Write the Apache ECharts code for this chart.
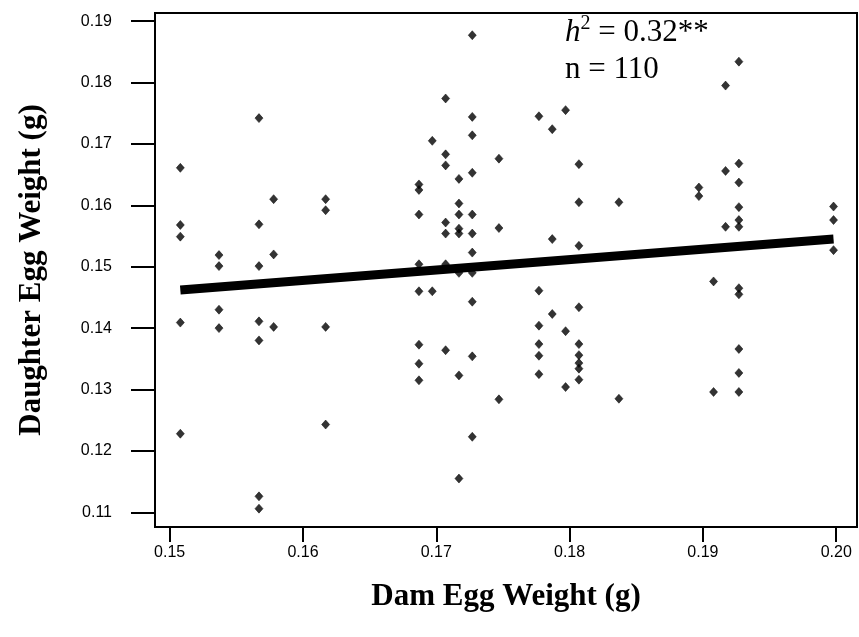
<!DOCTYPE html>
<html>
<head>
<meta charset="utf-8">
<script src="https://cdn.jsdelivr.net/npm/echarts@6/dist/echarts.min.js"></script>
<style>
html,body{margin:0;padding:0;background:#fff;}
#chart{width:859px;height:637px;}
</style>
</head>
<body>
<div id="chart"></div>
<script>
// Tick labels
const xTicks = [0.15, 0.16, 0.17, 0.18, 0.19, 0.20];
const yTicks = [0.11, 0.12, 0.13, 0.14, 0.15, 0.16, 0.17, 0.18, 0.19];

// Dam egg weight (g) for each column of points
const damColumns = [0.1508, 0.1537, 0.1567, 0.1578, 0.1617, 0.1687, 0.1697, 0.1707, 0.1717, 0.1727,
                    0.1747, 0.1777, 0.1787, 0.1797, 0.1807, 0.1837, 0.1897, 0.1908, 0.1917, 0.1927, 0.1998];

// Daughter egg weights (g) in each column
const daughterColumns = [
  [0.1661, 0.1568, 0.1549, 0.1409, 0.1228],
  [0.1519, 0.1501, 0.1430, 0.1400],
  [0.1742, 0.1569, 0.1501, 0.1411, 0.1380, 0.1126, 0.1106],
  [0.1610, 0.1520, 0.1402],
  [0.1610, 0.1592, 0.1402, 0.1243],
  [0.1634, 0.1625, 0.1585, 0.1504, 0.1460, 0.1373, 0.1342, 0.1315],
  [0.1705, 0.1460],
  [0.1774, 0.1683, 0.1665, 0.1572, 0.1554, 0.1504, 0.1364],
  [0.1643, 0.1603, 0.1585, 0.1562, 0.1554, 0.1490, 0.1323, 0.1155],
  [0.1877, 0.1744, 0.1714, 0.1653, 0.1585, 0.1554, 0.1523, 0.1490, 0.1443, 0.1354, 0.1223],
  [0.1676, 0.1563, 0.1284],
  [0.1745, 0.1461, 0.1404, 0.1374, 0.1355, 0.1325],
  [0.1724, 0.1545, 0.1423],
  [0.1755, 0.1395, 0.1304],
  [0.1667, 0.1605, 0.1534, 0.1434, 0.1374, 0.1356, 0.1343, 0.1334, 0.1316],
  [0.1605, 0.1285],
  [0.1629, 0.1615],
  [0.1476, 0.1296],
  [0.1795, 0.1656, 0.1565],
  [0.1834, 0.1668, 0.1637, 0.1597, 0.1576, 0.1565, 0.1465, 0.1455, 0.1366, 0.1327, 0.1296],
  [0.1598, 0.1576, 0.1527]
];

// Regression line end points
const lineDam = [0.1508, 0.1998];
const lineDaughter = [0.1462, 0.1545];

const points = [];
damColumns.forEach((x, i) => daughterColumns[i].forEach(y => points.push([x, y])));
const lineData = lineDam.map((x, i) => [x, lineDaughter[i]]);

const chart = echarts.init(document.getElementById('chart'), null, {renderer: 'canvas'});
chart.setOption({
  animation: false,
  backgroundColor: '#fff',
  title: {
    text: '{i|h}{s|2}{r| = 0.32**}\n{r|n = 110}',
    left: 565,
    top: 14,
    padding: 0,
    textStyle: {
      fontWeight: 'normal',
      rich: {
        i: {fontFamily: 'Liberation Serif', fontStyle: 'italic', fontWeight: 'normal', fontSize: 31, lineHeight: 37, color: '#000'},
        s: {fontFamily: 'Liberation Serif', fontWeight: 'normal', fontSize: 20, lineHeight: 24, verticalAlign: 'top', color: '#000'},
        r: {fontFamily: 'Liberation Serif', fontWeight: 'normal', fontSize: 31, lineHeight: 37, color: '#000'}
      }
    }
  },
  grid: {
    left: 155, right: 2, top: 13, bottom: 110,
    show: true, borderColor: '#000', borderWidth: 2, backgroundColor: 'transparent'
  },
  xAxis: {
    type: 'value',
    min: 0.1489, max: 0.20156,
    name: 'Dam Egg Weight (g)',
    nameLocation: 'middle',
    nameGap: 54,
    nameTextStyle: {fontFamily: 'Liberation Serif', fontWeight: 'bold', fontSize: 31, color: '#000'},
    axisLine: {show: true, onZero: false, lineStyle: {color: '#000', width: 2}},
    axisTick: {show: true, length: 15, customValues: xTicks, lineStyle: {color: '#000', width: 2}},
    axisLabel: {show: true, customValues: xTicks, margin: 18, fontFamily: 'Liberation Sans', fontSize: 16, color: '#000',
                formatter: v => v.toFixed(2)},
    splitLine: {show: false}
  },
  yAxis: {
    type: 'value',
    min: 0.10761, max: 0.19132,
    name: 'Daughter Egg Weight (g)',
    nameLocation: 'middle',
    nameGap: 108,
    nameTextStyle: {fontFamily: 'Liberation Serif', fontWeight: 'bold', fontSize: 31, color: '#000'},
    axisLine: {show: true, onZero: false, lineStyle: {color: '#000', width: 2}},
    axisTick: {show: true, length: 24, customValues: yTicks, lineStyle: {color: '#000', width: 2}},
    axisLabel: {show: true, customValues: yTicks, margin: 43, fontFamily: 'Liberation Sans', fontSize: 16, color: '#000',
                formatter: v => v.toFixed(2)},
    splitLine: {show: false}
  },
  series: [
    {
      type: 'scatter',
      data: points,
      symbol: 'diamond',
      symbolSize: [8, 9],
      itemStyle: {color: '#000', borderColor: '#000', borderWidth: 0.6}
    },
    {
      type: 'line',
      data: lineData,
      showSymbol: false,
      symbol: 'none',
      lineStyle: {color: '#000', width: 9, cap: 'butt'},
      z: 3
    }
  ]
});
</script>
</body>
</html>
